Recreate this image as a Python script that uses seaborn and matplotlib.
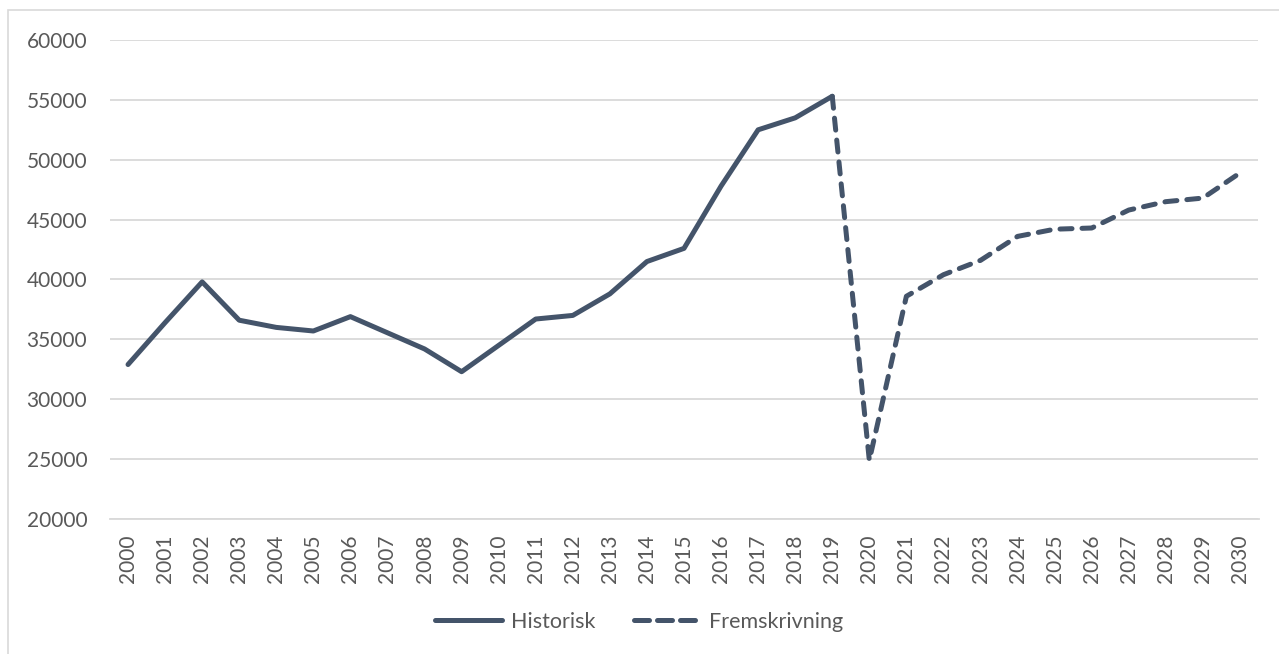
import numpy as np
import pandas as pd
import matplotlib.pyplot as plt
import seaborn as sns
from matplotlib.lines import Line2D
from matplotlib.patches import Rectangle

years_hist = list(range(2000, 2020))
values_hist = [32900, 36400, 39800, 36600, 36000, 35700, 36900, 35550, 34200, 32300,
               34500, 36700, 37000, 38800, 41500, 42600, 47800, 52500, 53500, 55300]

years_proj = list(range(2019, 2031))
values_proj = [55300, 24900, 38600, 40400, 41600, 43600, 44200, 44300, 45800, 46500,
               46800, 48900]

label_hist = "Historisk"
label_proj = "Fremskrivning"

line_color = "#44546A"
text_color = "#595959"
grid_color = "#D9D9D9"

df = pd.concat([
    pd.DataFrame({"year": years_hist, "value": values_hist, "serie": label_hist}),
    pd.DataFrame({"year": years_proj, "value": values_proj, "serie": label_proj}),
])

sns.set_theme(style="white")
plt.rcParams["font.family"] = ["Lato", "DejaVu Sans"]

fig = plt.figure(figsize=(12.79, 6.54), dpi=100)
ax = fig.add_axes([109.5 / 1279, 1 - 519 / 654, (1258.5 - 109.5) / 1279, (519 - 40) / 654])

sns.lineplot(data=df, x="year", y="value", style="serie",
             dashes={label_hist: "", label_proj: (2.4, 2.0)},
             color=line_color, linewidth=3.6, legend=False, ax=ax)
for ln in ax.lines:
    ln.set_dash_capstyle("round")
    ln.set_solid_capstyle("round")
    ln.set_solid_joinstyle("round")

ax.set_xlim(1999.5, 2030.5)
ax.set_ylim(20000, 60000)
ax.set_yticks(np.arange(20000, 60001, 5000))
ax.set_xticks(range(2000, 2031))
ax.set_xticklabels([str(y) for y in range(2000, 2031)], rotation=90)
ax.tick_params(axis="both", labelsize=15, labelcolor=text_color, length=0)
ax.tick_params(axis="x", pad=11)
ax.tick_params(axis="y", pad=16)
ax.yaxis.grid(True, color=grid_color, linewidth=1.3)
ax.set_axisbelow(True)
for side in ["top", "right", "left"]:
    ax.spines[side].set_visible(False)
ax.spines["bottom"].set_color(grid_color)
ax.spines["bottom"].set_linewidth(1.3)
ax.set_xlabel("")
ax.set_ylabel("")

handles = [
    Line2D([0], [0], color=line_color, linewidth=3.6, solid_capstyle="round"),
    Line2D([0], [0], color=line_color, linewidth=3.6, linestyle=(0, (3.0, 1.6)),
           dash_capstyle="round"),
]
fig.legend(handles, [label_hist, label_proj], loc="center", bbox_to_anchor=(0.5, 1 - 622 / 654),
           ncol=2, frameon=False, fontsize=15.5, labelcolor=text_color,
           handlelength=3.1, handletextpad=0.4, columnspacing=1.8)

fig.patches.append(Rectangle((8 / 1279, -0.05), 1.1, 1 - 10 / 654 + 0.05, transform=fig.transFigure,
                             fill=False, edgecolor=grid_color, linewidth=1.2))

fig.savefig("out.png", dpi=100, facecolor="white")
